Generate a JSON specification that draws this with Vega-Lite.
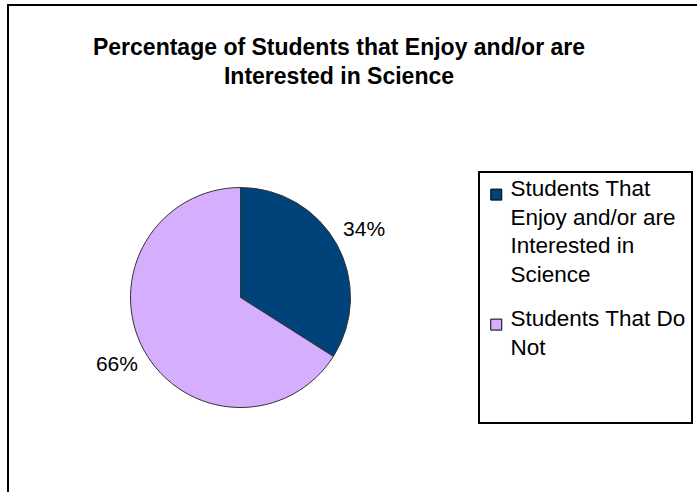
{
  "$schema": "https://vega.github.io/schema/vega-lite/v6.json",
  "width": 700,
  "height": 500,
  "autosize": {"type": "none"},
  "padding": {"left": 8, "top": 5, "right": 0, "bottom": 0},
  "background": "white",
  "config": {
    "view": {"stroke": null},
    "font": "Liberation Sans",
    "legend": {"strokeWidth": 2}
  },
  "title": {
    "text": ["Percentage of Students that Enjoy and/or are", "Interested in Science"],
    "fontSize": 23,
    "fontWeight": "bold",
    "font": "Liberation Sans",
    "color": "black",
    "anchor": "middle",
    "dx": -19,
    "offset": -85,
    "lineHeight": 29
  },
  "data": {
    "values": [
      {"category": "Students That Enjoy and/or are Interested in Science", "value": 34, "order": 1, "label": "34%"},
      {"category": "Students That Do Not", "value": 66, "order": 2, "label": "66%"}
    ]
  },
  "layer": [
    {
      "data": {"values": [{"frame": 1}]},
      "mark": {"type": "rect", "fill": "transparent", "stroke": "black", "strokeWidth": 2},
      "encoding": {}
    },
    {
      "mark": {"type": "arc", "outerRadius": 110, "x": 232.5, "y": 292.5, "stroke": "#333333", "strokeWidth": 1},
      "encoding": {
        "theta": {"field": "value", "type": "quantitative", "stack": true},
        "order": {"field": "order", "type": "quantitative"},
        "color": {
          "field": "category",
          "type": "nominal",
          "scale": {
            "domain": ["Students That Enjoy and/or are Interested in Science", "Students That Do Not"],
            "range": ["#00427A", "#D5AEFE"]
          },
          "legend": {
            "orient": "none",
            "legendX": 471,
            "legendY": 167,
            "title": " ",
            "titleFontSize": 1,
            "titlePadding": 6,
            "labelExpr": "datum.label == 'Students That Do Not' ? ['Students That Do', 'Not', '', ''] : ['Students That', 'Enjoy and/or are', 'Interested in', 'Science']",
            "labelFontSize": 22.5,
            "labelFont": "Liberation Sans",
            "labelColor": "black",
            "labelLimit": 300,
            "labelBaseline": "alphabetic",
            "labelOffset": 3,
            "symbolType": "M-1,-1.3H1V0.7H-1Z",
            "symbolSize": 121,
            "symbolStrokeColor": "black",
            "symbolStrokeWidth": 1,
            "symbolOpacity": 1,
            "strokeColor": "black",
            "fillColor": "white",
            "padding": 6,
            "rowPadding": 21,
            "encode": {"labels": {"update": {"lineHeight": {"value": 28.5}}}}
          }
        }
      }
    },
    {
      "mark": {"type": "text", "radius": 141, "x": 232.5, "y": 292.5, "fontSize": 21, "font": "Liberation Sans", "color": "black"},
      "encoding": {
        "theta": {"field": "value", "type": "quantitative", "stack": true},
        "order": {"field": "order", "type": "quantitative"},
        "text": {"field": "label", "type": "nominal"}
      }
    }
  ]
}
